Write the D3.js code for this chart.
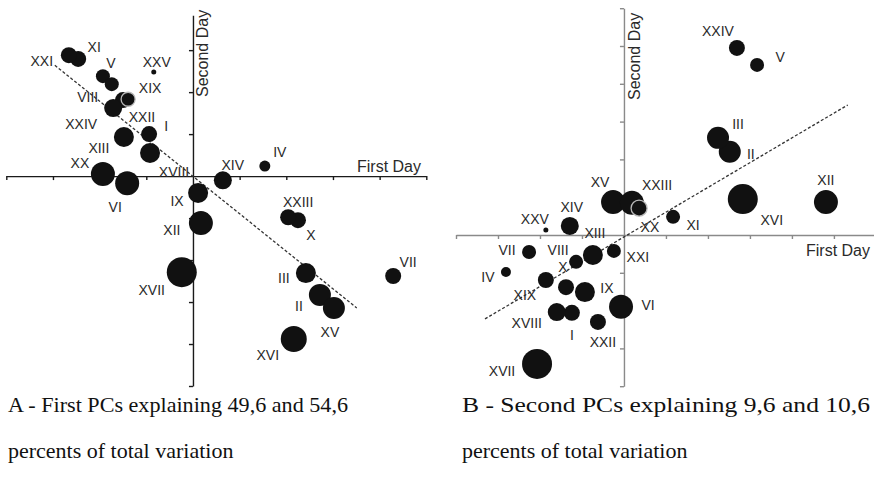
<!DOCTYPE html>
<html lang="en">
<head>
    <meta charset="UTF-8">
    <title>PCA scores - First and Second Day</title>
    <script src="https://d3js.org/d3.v7.min.js"></script>
    <style>
        body {
            margin: 0;
            background: #fff;
        }

        svg {
            display: block;
            background: #fff;
        }

        .pt-label {
            font-family: 'Liberation Sans', Arial, sans-serif;
            font-size: 14px;
            fill: #2a2a2a;
        }

        .axis-title {
            font-family: 'Liberation Sans', Arial, sans-serif;
            font-size: 16px;
            fill: #2a2a2a;
        }

        .caption {
            font-family: 'Liberation Serif', 'Times New Roman', serif;
            font-size: 22px;
            fill: #111;
        }

        .trend {
            fill: none;
            stroke: #333;
            stroke-width: 1.3px;
            stroke-dasharray: 3 2;
        }
    </style>
</head>
<body>
    <svg width="874" height="488" id="chart"></svg>

    <script>
        // sample names
        const samples = ["I", "II", "III", "IV", "V", "VI", "VII", "VIII", "IX", "X",
            "XI", "XII", "XIII", "XIV", "XV", "XVI", "XVII", "XVIII", "XIX", "XX",
            "XXI", "XXII", "XXIII", "XXIV", "XXV"];

        // A - first PCs (first day on x, second day on y)
        const pc1FirstDay = [-0.94, 2.72, 2.42, 1.54, -1.93, -1.41, 4.29, -1.74, 0.11, 2.25,
            -2.46, 0.17, -1.48, 0.64, 3.02, 2.16, -0.24, -0.92, -1.39, -1.93,
            -2.66, -1.50, 2.04, -1.71, -0.84];
        const pc1SecondDay = [1.00, -2.83, -2.31, 0.24, 2.38, -0.17, -2.38, 2.19, -0.40, -1.05,
            2.79, -1.12, 0.93, -0.10, -3.14, -3.88, -2.29, 0.55, 1.83, 0.05,
            2.88, 1.81, -0.98, 1.62, 2.48];
        const pc1Weight = [8, 11, 10, 5.5, 7, 12, 8, 7, 10, 8,
            8, 12, 10, 9, 11, 13, 15, 10, 7, 12,
            8, 8, 8, 9, 2.5];

        // B - second PCs
        const pc2FirstDay = [-1.24, 2.52, 2.24, -2.81, 3.17, -0.07, -2.26, -1.14, -0.93, -1.38,
            1.17, 4.81, -0.74, -1.29, -0.26, 2.83, -2.07, -1.60, -1.86, 0.19,
            -0.24, -0.62, 0.36, 2.69, -1.86];
        const pc2SecondDay = [-2.06, 2.20, 2.57, -0.98, 4.50, -1.90, -0.45, -0.71, -1.51, -1.38,
            0.48, 0.87, -0.53, 0.24, 0.87, 0.95, -3.41, -2.04, -1.19, 0.85,
            -0.42, -2.30, 0.71, 4.95, 0.13];
        const pc2Weight = [8, 11, 11, 5, 7, 12, 7, 7, 10, 8,
            7, 12, 10, 9, 12, 15, 15, 9, 8, 12,
            7, 8, 8, 8, 2.5];

        // dashed trend lines (end points in score units)
        const trendA = [[-2.96, 2.64], [3.51, -3.14]];
        const trendB = [[-3.31, -2.22], [5.33, 3.44]];

        const captionA = ["A - First PCs explaining 49,6 and 54,6", "percents of total variation"];
        const captionB = ["B - Second PCs explaining 9,6 and 10,6", "percents of total variation"];

        // label placement around each circle (px), same order as samples
        const labelOffA = [[17, -8], [-21, 11], [-22, 5], [15, -14], [8, -13], [-12, 24], [15, -14], [-24, 13], [-21, 8], [13, 15],
            [16, -12], [-29, 7], [-25, 11], [10, -15], [-4, 24], [-26, 16], [-30, 18], [24, 19], [22, -11], [-23, -11],
            [-27, 6], [19, 17], [10, -15], [-32, 16], [3, -10]];
        const labelOffB = [[0, 22], [21, 2], [20, -14], [-18, 5], [23, -8], [27, -2], [-22, -2], [-18, -12], [22, -4], [-3, -20],
            [20, 8], [0, -22], [2, -22], [2, -19], [-13, -20], [29, 21], [-35, 7], [-30, 11], [-21, 15], [18, 24],
            [24, 6], [5, 20], [18, -23], [-19, -17], [-11, -11]];

        const svg = d3.select("#chart");
        const radius = d3.scaleLinear().domain([0, 16]).range([0, 16]);

        function drawPanel(opts) {
            const g = svg.append("g");
            const x = opts.x, y = opts.y;

            // axes through the origin
            const xAxis = d3.axisBottom(x)
                .tickValues(d3.range(opts.xTicks[0], opts.xTicks[1] + 1).filter(d => d !== 0))
                .tickSize(4).tickSizeOuter(0).tickFormat("");
            const yAxis = d3.axisLeft(y)
                .tickValues(d3.range(opts.yTicks[0], opts.yTicks[1] + 1).filter(d => d !== 0))
                .tickSize(4).tickSizeOuter(0).tickFormat("");

            const gx = g.append("g").attr("transform", `translate(0,${y(0)})`).call(xAxis);
            const gy = g.append("g").attr("transform", `translate(${x(0)},0)`).call(yAxis);
            [gx, gy].forEach(a => {
                a.selectAll("path, line").attr("stroke", opts.axisColor).attr("stroke-width", 1.4);
            });

            // trend line
            g.append("path")
                .attr("class", "trend")
                .attr("d", d3.line().x(d => x(d[0])).y(d => y(d[1]))(opts.trend));

            const pts = samples.map((s, i) => ({
                name: s,
                px: opts.xs[i],
                py: opts.ys[i],
                w: opts.ws[i],
                off: opts.offs[i],
                ring: s === opts.ring
            }));

            // ringed one on top
            const ordered = pts.slice().sort((a, b) => a.ring - b.ring);

            g.selectAll("circle.pt").data(ordered).enter().append("circle")
                .attr("class", "pt")
                .attr("cx", d => x(d.px))
                .attr("cy", d => y(d.py))
                .attr("r", d => radius(d.w))
                .attr("fill", "#111")
                .attr("stroke", d => d.ring ? "#b8b8b8" : "none")
                .attr("stroke-width", 1.3);

            g.selectAll("text.pt-label").data(pts).enter().append("text")
                .attr("class", "pt-label")
                .attr("x", d => x(d.px) + d.off[0])
                .attr("y", d => y(d.py) + d.off[1])
                .attr("text-anchor", "middle")
                .attr("dominant-baseline", "central")
                .text(d => d.name);

            // axis titles
            g.append("text")
                .attr("class", "axis-title")
                .attr("x", opts.firstDayX)
                .attr("y", y(0) + opts.firstDayDy)
                .attr("text-anchor", "end")
                .text("First Day");

            g.append("text")
                .attr("class", "axis-title")
                .attr("transform", `translate(${x(0) + opts.secondDayDx},${opts.secondDayY}) rotate(-90)`)
                .attr("text-anchor", "start")
                .text("Second Day");

            // caption
            g.append("text")
                .attr("class", "caption")
                .attr("x", opts.capX)
                .attr("y", 412)
                .attr("textLength", opts.capLen)
                .attr("lengthAdjust", "spacingAndGlyphs")
                .text(opts.caption[0]);
            g.append("text")
                .attr("class", "caption")
                .attr("x", opts.capX)
                .attr("y", 458)
                .text(opts.caption[1]);
        }

        drawPanel({
            x: d3.scaleLinear().domain([-4, 5]).range([6.3, 426.3]),
            y: d3.scaleLinear().domain([-5, 3.83]).range([386, 15.3]),
            xTicks: [-4, 5],
            yTicks: [-5, 3],
            xs: pc1FirstDay, ys: pc1SecondDay, ws: pc1Weight, offs: labelOffA,
            trend: trendA,
            ring: "XIX",
            axisColor: "#1a1a1a",
            firstDayX: 421, firstDayDy: -4,
            secondDayDx: 15, secondDayY: 97,
            caption: captionA, capX: 8, capLen: 340
        });

        drawPanel({
            x: d3.scaleLinear().domain([-4, 6.05]).range([456, 878]),
            y: d3.scaleLinear().domain([-4, 6]).range([386.2, 8.2]),
            xTicks: [-4, 5],
            yTicks: [-4, 6],
            xs: pc2FirstDay, ys: pc2SecondDay, ws: pc2Weight, offs: labelOffB,
            trend: trendB,
            ring: "XXIII",
            axisColor: "#8a8a8a",
            firstDayX: 870, firstDayDy: 21,
            secondDayDx: 16, secondDayY: 100,
            caption: captionB, capX: 462, capLen: 408
        });
    </script>
</body>
</html>
